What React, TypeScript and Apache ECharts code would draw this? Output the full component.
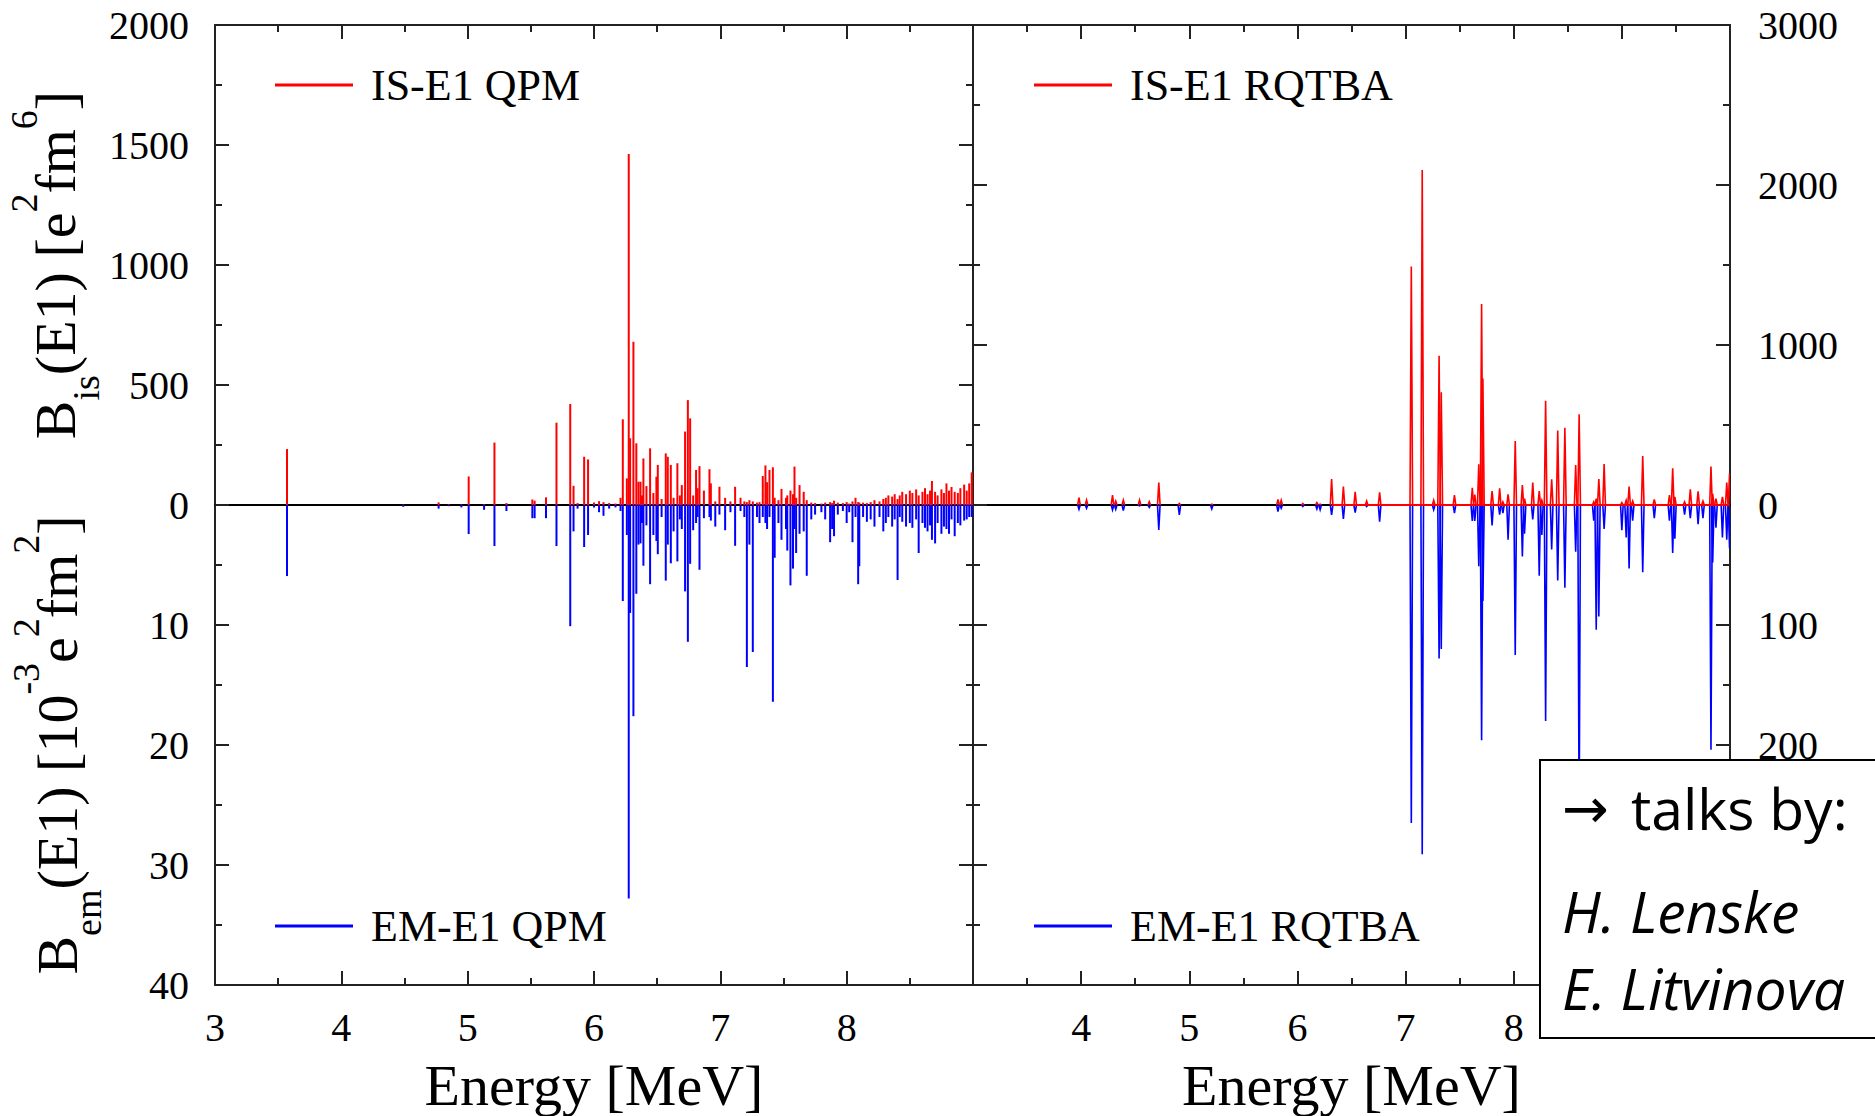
import React, { useEffect, useRef } from "react";
import * as echarts from "echarts";

// ---------------- data ----------------
// QPM: discrete states (energy in MeV), IS strength [e^2 fm^6], EM strength [10^-3 e^2 fm^2]
const qpmEnergy = [
  3.57, 4.49, 4.77, 4.85, 4.95, 5.008, 5.13, 5.212, 5.307, 5.512,
  5.53, 5.62, 5.703, 5.812, 5.838, 5.87, 5.922, 5.953, 6.0, 6.04,
  6.075, 6.12, 6.17, 6.21, 6.228, 6.26, 6.275, 6.286, 6.312, 6.335,
  6.352, 6.368, 6.38, 6.391, 6.415, 6.444, 6.47, 6.494, 6.505, 6.535,
  6.568, 6.584, 6.608, 6.63, 6.66, 6.68, 6.695, 6.721, 6.743, 6.761,
  6.785, 6.808, 6.82, 6.835, 6.87, 6.914, 6.925, 6.96, 6.993, 7.038,
  7.08, 7.117, 7.16, 7.19, 7.21, 7.23, 7.257, 7.29, 7.31, 7.336,
  7.357, 7.37, 7.389, 7.416, 7.43, 7.46, 7.484, 7.52, 7.53, 7.555,
  7.575, 7.587, 7.6, 7.627, 7.66, 7.684, 7.72, 7.75, 7.8, 7.83,
  7.869, 7.885, 7.9, 7.93, 7.97, 8.0, 8.02, 8.046, 8.07, 8.091,
  8.1, 8.13, 8.16, 8.19, 8.22, 8.26, 8.29, 8.31, 8.33, 8.36,
  8.38, 8.403, 8.42, 8.44, 8.47, 8.5, 8.52, 8.55, 8.57, 8.6,
  8.62, 8.64, 8.66, 8.675, 8.7, 8.72, 8.75, 8.77, 8.79, 8.81,
  8.83, 8.855, 8.88, 8.9, 8.93, 8.95, 8.97, 8.99,
];
const qpmIS = [
  233, 2, 11, 3, 2, 119, 3, 260, 8, 23,
  18, 32, 343, 421, 80, 8, 201, 190, 10, 16,
  12, 8, 6, 30, 357, 111, 1462, 278, 680, 257,
  97, 97, 40, 194, 79, 236, 50, 118, 167, 25,
  215, 201, 167, 30, 174, 40, 83, 306, 437, 361,
  40, 146, 70, 162, 60, 149, 90, 15, 76, 30,
  15, 76, 30, 15, 12, 20, 15, 10, 12, 121,
  165, 95, 146, 157, 30, 20, 67, 30, 40, 60,
  45, 160, 30, 83, 55, 20, 10, 8, 6, 10,
  12, 8, 18, 10, 8, 12, 6, 15, 30, 12,
  10, 10, 8, 12, 20, 15, 25, 30, 40, 35,
  45, 25, 40, 55, 45, 60, 50, 65, 40, 55,
  70, 45, 60, 100, 55, 40, 65, 50, 90, 60,
  75, 55, 50, 70, 85, 60, 90, 136,
];
const qpmEM = [
  5.92, 0.15, 0.3, 0.1, 0.2, 2.42, 0.4, 3.42, 0.5, 1.1,
  1.1, 1.1, 3.42, 10.1, 2.2, 0.3, 3.5, 2.5, 0.2, 0.6,
  0.9, 0.3, 0.2, 0.5, 8.0, 2.5, 32.8, 9.0, 17.6, 7.4,
  3.3, 3.2, 1.5, 5.06, 1.7, 6.6, 2.5, 3.0, 4.1, 1.0,
  6.3, 3.3, 4.86, 2.2, 4.7, 1.2, 2.0, 7.2, 11.4, 4.9,
  2.1, 1.5, 1.0, 5.4, 1.1, 1.0, 1.3, 1.8, 0.8, 2.1,
  0.6, 3.4, 0.5, 1.0, 13.5, 3.3, 12.25, 1.0, 1.5, 1.0,
  1.5, 2.0, 1.0, 16.4, 4.4, 1.5, 2.9, 2.0, 3.8, 6.7,
  5.3, 2.0, 4.0, 2.4, 2.2, 5.9, 1.2, 0.8, 0.6, 1.2,
  3.1, 2.0, 2.6, 0.8, 0.5, 1.5, 0.6, 3.1, 1.0, 6.6,
  5.1, 1.0, 1.4, 1.2, 1.8, 1.0, 2.2, 1.5, 1.0, 1.8,
  1.2, 6.25, 1.0, 1.4, 1.8, 1.5, 1.9, 1.2, 4.0, 1.5,
  1.9, 2.2, 1.7, 2.9, 3.2, 1.5, 2.4, 1.8, 2.0, 2.4,
  1.2, 2.6, 1.5, 1.7, 1.3, 1.2, 1.0, 1.0,
];

// RQTBA: peak positions (MeV), IS peak heights [e^2 fm^6], EM peak heights [10^-3 e^2 fm^2]
const rqtbaEnergy = [
  3.98, 4.05, 4.29, 4.32, 4.39, 4.54, 4.63, 4.718, 4.908, 5.208,
  5.82, 5.85, 6.05, 6.18, 6.21, 6.316, 6.425, 6.534, 6.64, 6.76,
  7.053, 7.154, 7.26, 7.31, 7.33, 7.452, 7.617, 7.64, 7.677, 7.703,
  7.715, 7.8, 7.87, 7.9, 7.948, 8.014, 8.08, 8.1, 8.176, 8.236,
  8.26, 8.295, 8.351, 8.407, 8.473, 8.573, 8.605, 8.74, 8.763, 8.787,
  8.836, 9.0, 9.04, 9.067, 9.1, 9.193, 9.3, 9.44, 9.47, 9.49,
  9.58, 9.633, 9.705, 9.75, 9.824, 9.84, 9.87, 9.93, 9.97, 9.996,
];
const rqtbaIS = [
  46, 31, 62, 25, 31, 31, 21, 140, 10, 5,
  35, 30, 10, 15, 5, 162, 115, 83, 25, 79,
  1490, 2094, 30, 933, 704, 62, 108, 65, 254, 1256,
  790, 87, 104, 20, 66, 400, 125, 40, 140, 87,
  30, 652, 160, 465, 483, 250, 567, 20, 40, 162,
  256, 15, 30, 115, 25, 306, 35, 62, 229, 50,
  20, 98, 85, 25, 240, 70, 40, 50, 141, 198,
];
const rqtbaEM = [
  3.6, 2.7, 4.1, 3.6, 4.7, 0.7, 2, 20.8, 8.3, 3.3,
  5.6, 2.7, 1.3, 3.3, 4, 8.3, 11.7, 6.4, 1.3, 13.9,
  265, 291, 4, 128, 120, 6.7, 13.3, 13.3, 51, 196,
  80, 17, 8, 6.7, 29, 125, 43, 24, 12, 59,
  25, 180, 37, 63, 69, 39, 267, 13, 104, 93,
  20, 21, 27, 53, 13, 56, 11, 13, 40, 28,
  8, 11, 16, 11, 204, 48, 19, 27, 29, 36,
];

const legendNames = ["IS-E1 QPM", "EM-E1 QPM", "IS-E1 RQTBA", "EM-E1 RQTBA"];
const xTitle = "Energy [MeV]";
const leftXLabels = [3, 4, 5, 6, 7, 8];
const rightXLabels = [4, 5, 6, 7, 8];
const leftUpperYLabels = [0, 500, 1000, 1500, 2000];
const leftLowerYLabels = [10, 20, 30, 40];
const rightUpperYLabels = [0, 1000, 2000, 3000];
const rightLowerYLabels = [100, 200];

// ---------------- styling ----------------
const SERIF = "Liberation Serif";
const SANS = "Open Sans";
const RED = "#ff0000";
const BLUE = "#0000ff";
const frame = { color: "#222", width: 2 };
const tickOn = { show: true, inside: true, length: 14, lineStyle: frame };
const minorOn = { show: true, splitNumber: 2, length: 7, lineStyle: frame };
const noSplit = { splitLine: { show: false }, minorSplitLine: { show: false } };
const only = (list: number[]) => (v: number) => (list.indexOf(v) >= 0 ? "{s|" + v + "}" : "");
const tickLabel = (margin: number, list: number[]) => ({
  margin,
  formatter: only(list),
  fontFamily: SERIF,
  fontSize: 40,
  color: "#000",
  rich: { s: { fontFamily: SERIF, fontSize: 40, color: "#000" } },
});

const richName = {
  m: { fontFamily: SERIF, fontSize: 58, color: "#000", lineHeight: 100, verticalAlign: "middle" },
  sub: { fontFamily: SERIF, fontSize: 38, color: "#000", lineHeight: 62, verticalAlign: "bottom" },
  sup: { fontFamily: SERIF, fontSize: 38, color: "#000", lineHeight: 38, verticalAlign: "top" },
};

function sticks(color: string) {
  return (_p: any, api: any) => {
    const x = api.value(0);
    const v = api.value(1);
    const a = api.coord([x, 0]);
    const b = api.coord([x, v]);
    return {
      type: "line",
      shape: { x1: a[0], y1: a[1], x2: b[0], y2: b[1] },
      style: { stroke: color, lineWidth: 2 },
    };
  };
}

function peaks(color: string, half: number) {
  return (_p: any, api: any) => {
    const x = api.value(0);
    const v = api.value(1);
    const pts = [api.coord([x - half, 0]), api.coord([x, v]), api.coord([x + half, 0])];
    return {
      type: "polyline",
      shape: { points: pts },
      style: { stroke: color, lineWidth: 1.6, fill: null },
    };
  };
}

function buildOption() {
  const zip = (e: number[], v: number[]) => e.map((x, i) => [x, v[i]]);
  const xBase = (grid: number, max: number) => ({
    gridIndex: grid,
    type: "value",
    min: 3,
    max,
    interval: 1,
    ...noSplit,
  });
  const yBase = (grid: number, max: number, interval: number, inverse: boolean) => ({
    gridIndex: grid,
    type: "value",
    min: 0,
    max,
    interval,
    inverse,
    ...noSplit,
  });
  const zeroLine = { show: true, onZero: false, lineStyle: { color: "#000", width: 2 } };
  const frameLine = { show: true, onZero: false, lineStyle: frame };
  const legendCommon = {
    orient: "horizontal",
    padding: 0,
    icon: "rect",
    itemWidth: 78,
    itemHeight: 3,
    selectedMode: false,
    textStyle: { fontFamily: SERIF, fontSize: 44, color: "#000", padding: [0, 0, 0, 13] },
  };
  const xName = {
    name: xTitle,
    nameLocation: "middle",
    nameGap: 71,
    nameTextStyle: { fontFamily: SERIF, fontSize: 58, color: "#000" },
  };
  // the broadened RQTBA strength leaves a red trace along zero over the dense region
  const rqtbaBaseline = {
    silent: true,
    symbol: "none",
    label: { show: false },
    lineStyle: { color: RED, width: 2, type: "solid" },
    data: [[{ coord: [rqtbaEnergy[15], 0] }, { coord: [rqtbaEnergy[rqtbaEnergy.length - 1], 0] }]],
  };

  return {
    animation: false,
    backgroundColor: "#fff",
    textStyle: { fontFamily: SERIF },
    grid: [
      { left: 215, top: 25, width: 758, height: 480 },
      { left: 215, top: 505, width: 758, height: 480 },
      { left: 973, top: 25, width: 757, height: 480 },
      { left: 973, top: 505, width: 757, height: 480 },
    ],
    xAxis: [
      { ...xBase(0, 9), position: "bottom", axisLine: zeroLine, axisTick: { show: false }, axisLabel: { show: false } },
      { ...xBase(0, 9), position: "top", axisLine: frameLine, axisTick: tickOn, minorTick: minorOn, axisLabel: { show: false } },
      {
        ...xBase(1, 9), position: "bottom", axisLine: frameLine, axisTick: tickOn, minorTick: minorOn,
        axisLabel: tickLabel(22, leftXLabels), ...xName,
      },
      { ...xBase(2, 10), position: "bottom", axisLine: zeroLine, axisTick: { show: false }, axisLabel: { show: false } },
      { ...xBase(2, 10), position: "top", axisLine: frameLine, axisTick: tickOn, minorTick: minorOn, axisLabel: { show: false } },
      {
        ...xBase(3, 10), position: "bottom", axisLine: frameLine, axisTick: tickOn, minorTick: minorOn,
        axisLabel: tickLabel(22, rightXLabels), ...xName,
      },
    ],
    yAxis: [
      {
        ...yBase(0, 2000, 500, false), position: "left", axisLine: frameLine, axisTick: tickOn, minorTick: minorOn,
        axisLabel: tickLabel(26, leftUpperYLabels),
        name: "{m|B}{sub|is}{m|(E1) [e}{sup|2}{m|fm}{sup|6}{m|]}",
        nameLocation: "middle", nameRotate: 90, nameGap: 108,
        nameTextStyle: { rich: richName },
      },
      { ...yBase(0, 2000, 500, false), position: "right", axisLine: frameLine, axisTick: tickOn, minorTick: minorOn, axisLabel: { show: false } },
      {
        ...yBase(1, 40, 10, true), position: "left", axisLine: frameLine, axisTick: tickOn, minorTick: minorOn,
        axisLabel: tickLabel(26, leftLowerYLabels),
        name: "{m|B}{sub|em}{m|(E1) [10}{sup|-3}{m|e}{sup|2}{m|fm}{sup|2}{m|]}",
        nameLocation: "middle", nameRotate: 90, nameGap: 108,
        nameTextStyle: { rich: richName },
      },
      { ...yBase(1, 40, 10, true), position: "right", axisLine: frameLine, axisTick: tickOn, minorTick: minorOn, axisLabel: { show: false } },
      { ...yBase(2, 3000, 1000, false), position: "left", axisLine: frameLine, axisTick: tickOn, minorTick: minorOn, axisLabel: { show: false } },
      {
        ...yBase(2, 3000, 1000, false), position: "right", axisLine: frameLine, axisTick: tickOn, minorTick: minorOn,
        axisLabel: tickLabel(28, rightUpperYLabels),
      },
      { ...yBase(3, 400, 100, true), position: "left", axisLine: frameLine, axisTick: tickOn, minorTick: minorOn, axisLabel: { show: false } },
      {
        ...yBase(3, 400, 100, true), position: "right", axisLine: frameLine, axisTick: tickOn, minorTick: minorOn,
        axisLabel: tickLabel(28, rightLowerYLabels),
      },
    ],
    legend: [
      { ...legendCommon, data: [legendNames[0]], left: 275, top: 63 },
      { ...legendCommon, data: [legendNames[1]], left: 275, top: 904 },
      { ...legendCommon, data: [legendNames[2]], left: 1034, top: 63 },
      { ...legendCommon, data: [legendNames[3]], left: 1034, top: 904 },
    ],
    series: [
      {
        name: legendNames[1], type: "custom", xAxisIndex: 2, yAxisIndex: 2, clip: true,
        itemStyle: { color: BLUE }, renderItem: sticks(BLUE), data: zip(qpmEnergy, qpmEM),
      },
      {
        name: legendNames[0], type: "custom", xAxisIndex: 0, yAxisIndex: 0, clip: true,
        itemStyle: { color: RED }, renderItem: sticks(RED), data: zip(qpmEnergy, qpmIS),
      },
      {
        name: legendNames[3], type: "custom", xAxisIndex: 5, yAxisIndex: 7, clip: true,
        itemStyle: { color: BLUE }, renderItem: peaks(BLUE, 0.012), data: zip(rqtbaEnergy, rqtbaEM),
      },
      {
        name: legendNames[2], type: "custom", xAxisIndex: 3, yAxisIndex: 5, clip: true,
        itemStyle: { color: RED }, renderItem: peaks(RED, 0.012), data: zip(rqtbaEnergy, rqtbaIS),
        markLine: rqtbaBaseline,
      },
    ],
    graphic: [
      {
        type: "rect", z: 100,
        shape: { x: 1540, y: 760, width: 345, height: 278 },
        style: { fill: "#fff", stroke: "#000", lineWidth: 2 },
      },
      {
        type: "text", z: 101, x: 1562, y: 808,
        style: {
          text: "{a|→}{t|talks by:}",
          verticalAlign: "middle",
          rich: {
            a: { fontFamily: "DejaVu Sans", fontSize: 56, fill: "#000", padding: [0, 22, 0, 0] },
            t: { fontFamily: SANS, fontSize: 57, fill: "#000" },
          },
        },
      },
      {
        type: "text", z: 101, x: 1562, y: 911,
        style: { text: "H. Lenske", fontFamily: SANS, fontSize: 57, fontStyle: "italic", fill: "#000", verticalAlign: "middle" },
      },
      {
        type: "text", z: 101, x: 1562, y: 988,
        style: { text: "E. Litvinova", fontFamily: SANS, fontSize: 57, fontStyle: "italic", fill: "#000", verticalAlign: "middle" },
      },
    ],
  };
}

export default function App() {
  const ref = useRef<HTMLDivElement>(null);
  useEffect(() => {
    const chart = echarts.init(ref.current as HTMLDivElement, null, { renderer: "svg" });
    chart.setOption(buildOption() as any);
    return () => chart.dispose();
  }, []);
  return (
    <div
      ref={ref}
      style={{ position: "fixed", left: 0, top: 0, width: 1875, height: 1116, background: "#fff" }}
    />
  );
}
